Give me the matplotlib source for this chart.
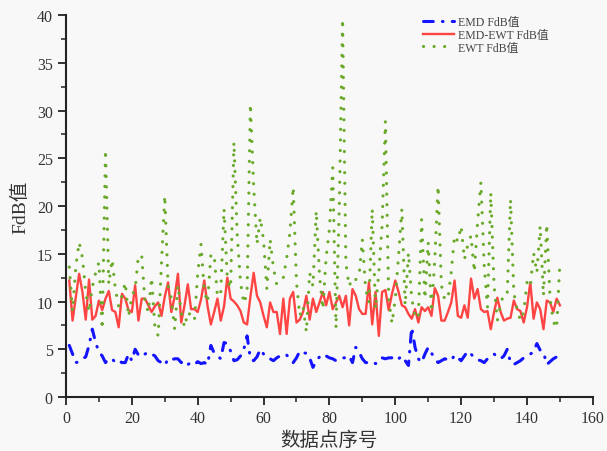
import numpy as np
import matplotlib
matplotlib.use("Agg")
import matplotlib.pyplot as plt
from matplotlib.ticker import MultipleLocator

plt.rcParams['font.family'] = ['Liberation Serif', 'Noto Sans CJK SC']
plt.rcParams['axes.unicode_minus'] = False

# FdB values per data point
emd_fdb = [
    5.4, 4.5, 3.6, 3.7, 4.0, 4.2, 5.4, 7.1, 5.7, 4.7, 4.3, 3.6, 4.0, 4.0, 3.6, 3.8, 3.6, 3.6, 4.5, 3.8,
    5.0, 4.4, 4.2, 4.5, 4.7, 4.5, 4.3, 3.8, 3.6, 3.3, 4.0, 3.9, 4.0, 4.0, 3.6, 3.8, 3.4, 3.6, 3.4, 3.7,
    3.5, 3.6, 3.4, 5.4, 4.6, 4.3, 4.0, 5.7, 5.6, 4.8, 3.8, 3.9, 4.3, 5.0, 6.4, 4.0, 3.8, 4.2, 5.0, 4.5,
    4.4, 4.0, 3.8, 4.1, 4.3, 4.2, 4.4, 4.0, 3.6, 4.1, 4.8, 4.6, 4.6, 4.1, 3.1, 3.8, 4.2, 4.5, 4.3, 4.1,
    4.0, 3.8, 3.9, 4.1, 4.1, 4.3, 3.6, 5.2, 4.7, 4.0, 3.6, 3.6, 3.7, 3.5, 3.6, 4.1, 4.0, 4.1, 4.1, 4.3,
    4.0, 4.3, 3.8, 3.3, 7.3, 5.2, 4.0, 3.6, 4.5, 5.2, 4.6, 4.0, 3.6, 3.8, 4.0, 3.9, 3.8, 4.4, 4.1, 3.8,
    4.3, 4.8, 4.5, 4.1, 3.9, 3.8, 3.6, 4.0, 4.3, 4.5, 4.2, 4.0, 4.3, 5.0, 3.6, 3.4, 3.6, 3.8, 4.1, 4.3,
    4.5, 4.7, 5.6, 4.9, 4.7, 3.4, 3.7, 4.0, 4.2, 4.2,
]

emd_ewt_fdb = [
    12.2, 8.0, 10.5, 12.9, 11.0, 8.1, 12.3, 8.1, 8.5, 10.1, 9.1, 10.3, 11.1, 9.1, 8.9, 7.3, 10.8, 10.3, 9.1, 8.9,
    11.7, 8.0, 10.3, 10.3, 9.6, 8.9, 9.5, 9.9, 8.5, 10.5, 12.0, 8.9, 10.5, 12.9, 7.8, 9.6, 11.8, 9.2, 9.2, 8.9,
    10.2, 12.2, 9.5, 7.6, 8.9, 10.3, 8.0, 9.5, 12.5, 10.3, 10.0, 9.6, 9.0, 7.8, 7.6, 10.5, 13.0, 10.6, 9.9, 8.5,
    7.3, 9.9, 8.9, 8.9, 6.6, 10.3, 6.6, 10.3, 11.0, 7.8, 8.1, 8.9, 10.6, 8.1, 10.3, 8.9, 9.9, 11.0, 9.6, 11.0,
    9.2, 9.9, 10.6, 9.4, 10.6, 7.5, 11.3, 10.6, 9.2, 8.7, 8.7, 12.0, 7.6, 11.0, 6.4, 11.0, 11.2, 9.1, 10.8, 12.2,
    11.0, 9.6, 9.4, 8.7, 8.2, 9.2, 7.8, 9.4, 9.0, 9.4, 8.5, 11.4, 10.6, 8.0, 8.0, 8.9, 9.9, 12.2, 8.5, 8.3,
    9.6, 8.3, 12.4, 10.3, 11.3, 9.2, 8.9, 9.0, 7.1, 8.9, 10.4, 8.9, 8.0, 8.2, 8.3, 10.1, 9.2, 9.0, 7.8, 9.4,
    12.0, 8.2, 9.9, 9.2, 7.1, 10.1, 9.9, 8.9, 10.3, 9.6,
]

ewt_fdb = [
    13.6, 9.0, 13.7, 16.2, 14.6, 11.0, 8.9, 11.5, 13.0, 14.1, 7.1, 25.9, 11.8, 14.4, 11.3, 9.5, 10.6, 12.0, 8.4, 10.6,
    11.3, 14.8, 14.8, 9.9, 8.9, 12.5, 7.3, 6.4, 14.0, 21.1, 11.7, 10.3, 7.1, 11.7, 8.9, 7.3, 8.9, 8.5, 8.0, 12.9,
    16.0, 11.1, 9.9, 14.9, 14.9, 10.5, 11.0, 19.7, 12.3, 11.4, 26.7, 17.0, 12.0, 9.8, 10.9, 30.7, 22.0, 16.0, 18.8, 16.4,
    11.3, 16.5, 13.5, 11.8, 12.2, 12.5, 14.5, 17.2, 22.0, 12.0, 8.5, 9.5, 6.8, 13.0, 11.6, 19.5, 12.7, 9.2, 14.6, 17.6,
    24.0, 7.2, 20.0, 39.6, 14.0, 11.6, 12.5, 12.3, 12.7, 16.5, 11.3, 9.9, 19.7, 9.2, 13.0, 18.0, 28.9, 10.3, 7.7, 10.3,
    14.8, 19.7, 9.6, 15.1, 10.3, 8.5, 8.2, 18.6, 10.3, 16.2, 8.9, 14.4, 22.1, 11.7, 10.2, 10.3, 13.1, 16.9, 16.3, 17.9,
    14.4, 15.9, 16.9, 13.1, 18.3, 22.5, 13.8, 9.4, 21.4, 11.7, 8.0, 9.7, 10.9, 10.9, 20.7, 10.9, 9.2, 8.0, 8.9, 12.0,
    11.5, 15.1, 13.0, 17.9, 10.6, 18.1, 10.3, 7.9, 7.2, 14.2,
]

series_labels = ["EMD FdB值", "EMD-EWT FdB值", "EWT FdB值"]
x_label = "数据点序号"
y_label = "FdB值"

x = np.arange(1, len(emd_fdb) + 1)

bg = "#f8f8f8"
fig = plt.figure(figsize=(6.07, 4.52), dpi=100, facecolor=bg)
ax = fig.add_axes([0.1087, 0.1195, 0.868, 0.845], facecolor=bg)

ax.plot(x, emd_fdb, color="#1414ff", lw=2.2, linestyle=(0, (3.2, 3.0, 0.2, 3.0)),
        dash_capstyle="round", label=series_labels[0])
ax.plot(x, emd_ewt_fdb, color="#ff4444", lw=1.7, linestyle="-",
        label=series_labels[1])
ax.plot(x, ewt_fdb, color="#6aaa2a", lw=2.3, linestyle=(0, (0.01, 3.3)),
        dash_capstyle="round", label=series_labels[2])

ax.set_xlim(0, 160)
ax.set_ylim(0, 40)
ax.xaxis.set_major_locator(MultipleLocator(20))
ax.xaxis.set_minor_locator(MultipleLocator(10))
ax.yaxis.set_major_locator(MultipleLocator(5))
ax.yaxis.set_minor_locator(MultipleLocator(2.5))

for side in ("top", "right"):
    ax.spines[side].set_visible(False)
for side in ("left", "bottom"):
    ax.spines[side].set_linewidth(1.5)
    ax.spines[side].set_color("#222222")

ax.tick_params(which="major", direction="out", length=6, width=1.3, labelsize=11.5,
               colors="#222222", labelcolor="#333333")
ax.tick_params(which="minor", direction="out", length=3.5, width=1.1, colors="#222222")

ax.set_xlabel(x_label, fontsize=14, labelpad=3, color="#333333")
ax.set_ylabel(y_label, fontsize=14, labelpad=5, color="#333333")

leg = ax.legend(loc="upper right", bbox_to_anchor=(0.93, 1.015), frameon=False,
                fontsize=8.5, handlelength=2.6, handletextpad=0.4,
                labelspacing=0.05, borderaxespad=0.2)
for t in leg.get_texts():
    t.set_color("#444444")

fig.savefig("out.png", dpi=100, facecolor=bg)
